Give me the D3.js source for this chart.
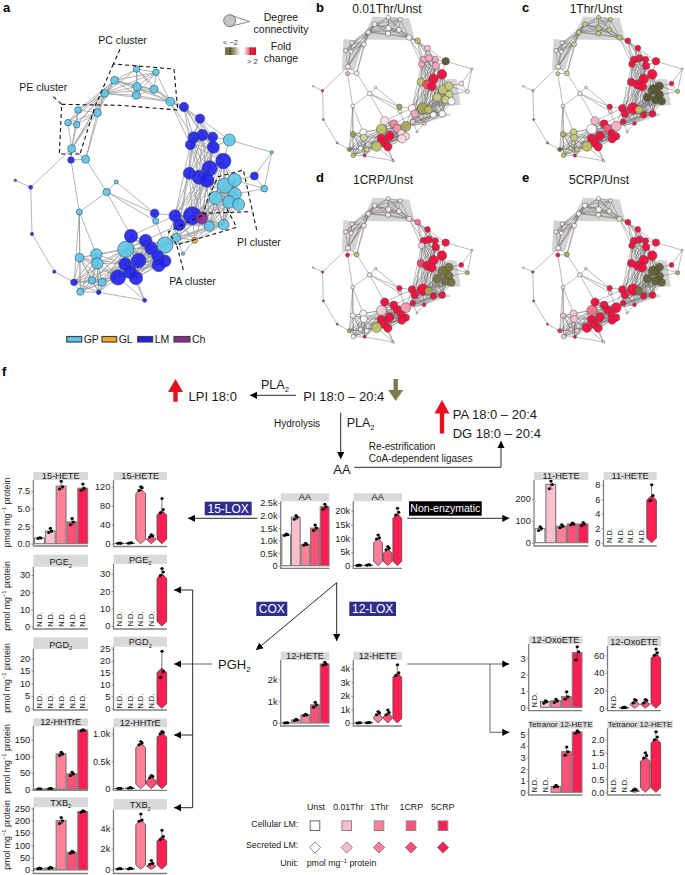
<!DOCTYPE html>
<html><head><meta charset="utf-8">
<style>html,body{margin:0;padding:0;background:#fff}svg{display:block;font-family:"Liberation Sans",Arial,sans-serif}</style>
<script src="https://cdn.jsdelivr.net/npm/d3@7"></script></head><body>
<div id="c"></div>
<script>
// ---------- network data (layout units) ----------
const nodeX=[410,468,344,411,462,409,314,511,234,292,204,230,215,257,349,320,238,467,688,815,793,675,704,647,705,687,716,628,671,529,495,377,549,239,289,292,276,306,241,552,600,581,607,638,571,640,670,568,629,597,621,763,213,92,96,163,464,525,577,538,393,437,453,473,495,416,375,476,390,354,408,222,296,434,605,584,46];
const nodeY=[207,217,241,260,268,286,280,305,330,338,368,374,446,478,546,576,636,663,420,457,566,557,540,594,582,606,613,679,674,713,735,748,761,773,763,790,841,847,875,321,356,412,405,411,434,442,483,520,505,532,541,528,480,562,702,815,640,647,647,674,708,722,745,768,783,782,792,795,815,832,834,847,877,901,654,721,541];
const nodeDegree=[10,10,12,13,12,12,12,13,10,12,10,10,12,12,6,11,9,9,18,5,10,23,20,20,19,19,18,15,16,13,24,24,5,13,17,17,11,12,11,14,14,17,17,15,15,18,23,18,23,21,21,12,10,6,5,5,13,18,27,18,20,19,19,18,18,22,19,20,20,23,20,10,7,6,18,9,4];
const nodeClass=Array.from({length:77},(_,i)=>i<39?"GP":i<74?"LM":i===74?"Ch":i===75?"GL":"Other");
const cliques=[[0,1,2,3,4,5,6,7],[2,6,8,9,10,11,12],[39,40,41,42,43,44,45],[41,42,43,44,45,46,47,48,49,50],[47,48,49,50,57,58,59,74],[21,22,23,24,25,26,46,50,58,74,27,28],[29,30,57,58,59,74,75,27,28],[60,61,62,63,64,65,66,67,68,69,70,30,31],[33,34,35,36,37,38,71,72,69,31,66]];
const extraEdges=[[76,53],[53,54],[54,55],[55,71],[53,12],[52,12],[52,13],[12,13],[13,9],[12,9],[52,16],[13,15],[15,14],[15,16],[14,56],[15,56],[15,17],[15,60],[16,33],[16,34],[16,71],[16,38],[56,17],[56,57],[17,30],[18,40],[18,19],[18,46],[19,51],[19,20],[51,20],[51,22],[20,22],[20,24],[39,7],[39,4],[40,7],[7,44],[7,41],[73,70],[73,68],[73,72],[73,69],[32,29],[32,75],[60,30],[60,57],[31,59],[30,57],[71,33],[42,50],[44,57],[41,59],[45,58],[18,45],[18,43],[13,52],[9,12],[6,13]];
const foldB=[.05,.2,.2,.02,.2,.02,.4,.03,.3,.3,.3,.3,.2,-.12,0,0,0,.2,-2,.1,.3,-.9,-.8,-.8,-.7,-.7,.05,.05,.05,.7,-1.2,-1,.05,-1.3,.02,-.6,.02,-.7,-1,-1,.7,1,1,1,1,1,2,-.9,2,1.6,2,.4,1,1.9,1.6,1.2,-1.3,.02,-1.3,1,.4,1.2,1.1,.5,.5,2,2,.5,2,-1,2,-1.5,2,.8,-1,.8,0];
const foldC=[-.8,-.8,-.8,-.8,-.8,-.8,-.8,-.9,-.1,-.6,-.1,-.1,-.1,-.7,-.1,-.1,-.15,.3,2,.05,-1,-2,-2,-2,-2,-2,-2,2,2,2,.9,0,.2,-1.1,-.8,-.8,-.8,-.8,-1,2,2,2,2,2,2,2,2,2,2,2,2,2,-.7,.8,1.8,1.8,2,2,2,2,.9,2,1.4,2,2,2,2,2,2,-1,2,-1.8,2,.7,-1,2,0];
const foldD=[.3,.3,.3,.3,.3,.3,.3,.4,.3,.3,.3,.3,.3,-1,.3,.4,.2,.3,2,-.1,-1.2,-1.7,-1.7,-1.7,-1.7,-1.7,-1.7,2,2,2,1.1,.6,.2,-.1,.05,.05,-.15,-.1,-.1,1.3,2,2,2,2,.5,2,2,1.6,2,2,2,2,2,2,2,2,2,2,2,2,2,2,2,2,2,2,2,2,2,-1,2,-1.2,2,.4,-1.2,2,0];
const foldE=[.1,-.2,.1,.05,-.2,-.2,.1,-.3,.2,.2,.2,.2,.2,-1.2,.3,.3,.3,.3,2,.1,-1.2,-1.9,-1.9,-1.9,-1.9,-1.9,-1.9,2,2,2,2,1.3,.3,.7,.7,.7,.7,.7,.6,2,2,2,2,2,2,2,2,2,2,2,2,2,2,2,2,2,2,2,2,2,2,2,2,2,2,2,2,2,2,2,2,1.8,2,.4,-1.7,2,0];
const dashedPaths=[[[360,148],[340,192],[522,207],[533,328]],[[340,192],[285,320],[240,462]],[[185,313],[360,316],[533,330]],[[160,290],[185,313],[178,462],[242,462]],[[770,690],[730,510],[655,530],[625,590],[610,640],[755,635]],[[550,810],[530,735],[710,682],[680,625]],[[530,735],[505,695],[620,640]]];
const hulls=[[[335,203],[512,211],[539,318],[283,315]],[[193,312],[289,323],[249,462],[185,462]],[[700,504],[741,507],[760,632],[620,640],[625,570]],[[625,640],[717,680],[530,735],[515,700]]];
const clusterNames=["PC cluster","PE cluster","PI cluster","PA cluster"];
const classNames=["GP","GL","LM","Ch"];
const classColors={GP:"#5cc6e8",GL:"#f7a823",LM:"#2020ee",Ch:"#8e2a90",Other:"#e02a2a"};

// ---------- bar data ----------
const conditions=["Unst","0.01Thr","1Thr","1CRP","5CRP"];
const condColors=["#ffffff","#fdbfcc","#ff8097","#ff5176","#ff1f52"];
const hete15C=[.8,1.8,8.2,3.1,7.9],hete15CR=[[.75,.8,.85],[1.6,1.8,2.2],[7.8,8.1,8.9],[2.7,3.1,3.6],[7.6,7.9,8.5]];
const hete15S=[1,1.5,115,18,70],hete15SR=[[1,1,1.5],[1,2,2],[112,118,120],[14,17,19],[65,72,95]];
const pge2C=[null,null,null,null,null];
const pge2S=[null,null,null,null,30],pge2SR=[null,null,null,null,[29,31,33]];
const pgd2C=[null,null,null,null,null];
const pgd2S=[null,null,null,null,17],pgd2SR=[null,null,null,null,[13,15.5,24]];
const hhtC=[1,2,108,47,180],hhtCR=[[1,1,2],[1,2,3],[103,108,113],[42,47,52],[178,180,181]];
const hhtS=[5,15,830,225,1020],hhtSR=[[3,5,8],[10,15,22],[800,830,860],[200,225,240],[1000,1020,1040]];
const txbC=[6,8,200,72,237],txbCR=[[5,6,8],[6,8,11],[188,200,213],[68,72,76],[234,237,240]];
const txbS=[50,80,4800,600,3200],txbSR=[[20,50,80],[40,80,130],[4700,4800,5400],[500,600,850],[2900,3200,3800]];
const aaC=[1230,1930,850,1500,2350],aaCR=[[1200,1230,1260],[1850,1930,2000],[820,850,900],[1400,1500,1620],[2250,2350,2450]];
const aaS=[200,300,10000,6200,19000],aaSR=[[100,200,250],[200,300,450],[9800,10200,11200],[5800,6400,7000],[18500,19500,21000]];
const hete11C=[65,265,75,85,85],hete11CR=[[55,65,72],[245,265,280],[68,75,82],[80,85,90],[78,85,92]];
const hete11S=[null,null,null,null,6.5],hete11SR=[null,null,null,null,[5.8,6.5,8]];
const hete12C=[10,140,370,830,2700],hete12CR=[[5,10,15],[100,140,170],[340,370,400],[720,830,950],[2650,2700,2780]];
const hete12S=[10,30,750,780,3700],hete12SR=[[5,10,15],[20,30,40],[600,750,850],[600,780,950],[3500,3700,4300]];
const oxoC=[null,.35,.4,.65,3.35],oxoCR=[null,[.25,.35,.4],[.3,.4,.5],[.5,.65,.95],[2.9,3.4,3.7]];
const oxoS=[null,1,9,9,62],oxoSR=[null,[.5,1,1.5],[6,9,10],[6,9,10],[60,63,67]];
const tetC=[null,null,.5,3.5,5.2],tetCR=[null,null,[.45,.5,.6],[3.2,3.5,3.9],[5.1,5.2,5.3]];
const tetS=[null,null,.09,1.35,2.05],tetSR=[null,null,[.08,.1,.13],[1.3,1.4,1.5],[2,2.1,2.3]];

const W=685,H=875;
const svg=d3.select("#c").append("svg").attr("width",W).attr("height",H).attr("viewBox",`0 0 ${W} ${H}`);
const TXT="#1a1a1a";
function text(x,y,s,size,o={}){
  const t=svg.append("text").attr("x",x).attr("y",y).attr("font-size",size).attr("fill",o.fill||TXT)
    .attr("text-anchor",o.anchor||"start").attr("font-weight",o.weight||"normal");
  const m=s.match(/^(.*)_(\w+)(.*)$/);
  if(m){t.append("tspan").text(m[1]);t.append("tspan").attr("font-size",size*.62).attr("dy",size*.25).text(m[2]);
    if(m[3])t.append("tspan").attr("dy",-size*.25).text(m[3]);}
  else t.text(s);
  return t;
}
function unit(x,y,size,rotate,anchor){
  const g=svg.append("text").attr("font-size",size).attr("fill",TXT).attr("text-anchor",anchor||"middle")
    .attr("transform",`translate(${x},${y})${rotate?" rotate(-90)":""}`);
  g.append("tspan").text("pmol mg");
  g.append("tspan").attr("dy",-size*.35).attr("font-size",size*.65).text("−1");
  g.append("tspan").attr("dy",size*.35).text(" protein");
}

// ---------- network ----------
const edgeSet=new Map();
cliques.forEach(c=>c.forEach((a,i)=>c.slice(i+1).forEach(b=>edgeSet.set(Math.min(a,b)+"-"+Math.max(a,b),[a,b]))));
extraEdges.forEach(([a,b])=>edgeSet.set(Math.min(a,b)+"-"+Math.max(a,b),[a,b]));
const edges=[...edgeSet.values()];
const fold=d3.scaleLinear().domain([-2,-1,-.15,0,.5,1,1.5,2]).range(["#56562f","#bfbf62","#e2f2da","#ffffff","#fcd8df","#f9a8bc","#f74f70","#f50f3c"]).clamp(true);
function network(ox,oy,k,folds){
  const x=d3.scaleLinear().domain([0,930]).range([ox,ox+930*k]);
  const y=d3.scaleLinear().domain([0,930]).range([oy,oy+930*k]);
  const g=svg.append("g");
  const line=d3.line().x(d=>x(d[0])).y(d=>y(d[1]));
  if(folds) g.selectAll("path.h").data(hulls).join("path").attr("d",d=>line(d)+"Z").attr("fill","#d4d4d4");
  g.selectAll("line").data(edges).join("line")
    .attr("x1",d=>x(nodeX[d[0]])).attr("y1",d=>y(nodeY[d[0]])).attr("x2",d=>x(nodeX[d[1]])).attr("y2",d=>y(nodeY[d[1]]))
    .attr("stroke",folds?"#666":"#999").attr("stroke-width",folds?.45:.75);
  g.selectAll("circle").data(nodeX.map((_,i)=>i)).join("circle")
    .attr("cx",i=>x(nodeX[i])).attr("cy",i=>y(nodeY[i])).attr("r",i=>nodeDegree[i]*k)
    .attr("fill",i=>folds?fold(folds[i]):classColors[nodeClass[i]])
    .attr("fill-opacity",folds?.96:.9).attr("stroke",folds?"#4a4a4a":"#2f4c66").attr("stroke-width",folds?.5:.6);
  if(!folds) g.selectAll("path.d").data(dashedPaths).join("path").attr("d",line).attr("fill","none")
    .attr("stroke","#111").attr("stroke-width",1.1).attr("stroke-dasharray","4 3");
}
network(0,0,1/3,null);
const K=.62/3;
network(303.5,-25.5,K,foldB);
network(513.8,-25.5,K,foldC);
network(303.5,155.8,K,foldD);
network(513.8,155.8,K,foldE);

[["a",3,12],["b",316,12],["c",522,12],["d",316,182],["e",522,182],["f",2,376]].forEach(d=>text(d[1],d[2],d[0],13,{weight:"bold",fill:"#000"}));
text(387,13,"0.01Thr/Unst",12,{anchor:"middle"});text(596,13,"1Thr/Unst",12,{anchor:"middle"});
text(383,184,"1CRP/Unst",12,{anchor:"middle"});text(599,184,"5CRP/Unst",12,{anchor:"middle"});
text(98.3,43.5,clusterNames[0],10.5);text(19.3,91,clusterNames[1],10.5);text(237,246,clusterNames[2],10.5);text(169.3,285,clusterNames[3],10.5);

// panel a legends
svg.append("path").attr("d","M230,15 L249.5,21.5 L230,26.5").attr("fill","none").attr("stroke","#555").attr("stroke-width",.7);
svg.append("circle").attr("cx",229.7).attr("cy",20.7).attr("r",6).attr("fill","#c4c4c4").attr("stroke","#555").attr("stroke-width",.7);
text(281,20.5,"Degree",10.5,{anchor:"middle"});text(281,33,"connectivity",10.5,{anchor:"middle"});
text(281,49.5,"Fold",10.5,{anchor:"middle"});text(281,62,"change",10.5,{anchor:"middle"});
text(223,45,"< −2",7.5,{fill:"#333"});text(247,64,"> 2",7.5,{fill:"#333"});
const gr=svg.append("defs").append("linearGradient").attr("id","fc");
[[0,"#77774a"],[.22,"#77774a"],[.5,"#ffffff"],[.6,"#ffffff"],[.78,"#f56080"],[.9,"#ee1133"],[1,"#ee1133"]].forEach(d=>gr.append("stop").attr("offset",d[0]).attr("stop-color",d[1]));
svg.append("rect").attr("x",225).attr("y",47.3).attr("width",31).attr("height",7.7).attr("fill","url(#fc)");
[230,250.5].forEach(x=>svg.append("line").attr("x1",x).attr("x2",x).attr("y1",47.3).attr("y2",55).attr("stroke","#222").attr("stroke-width",.7));
const legX=[66.7,102,137.7,174],legW=[15,14.7,15,16];
classNames.forEach((c,i)=>{
  svg.append("rect").attr("x",legX[i]).attr("y",336.5).attr("width",legW[i]).attr("height",5.5).attr("fill",classColors[c]).attr("stroke","#444").attr("stroke-width",1.2);
  text(legX[i]+legW[i]+2,342.5,c,10.5);
});

// ---------- pathway arrows ----------
function arrowLine(pts,head=true,color="#111",w=.9){
  svg.append("path").attr("d",d3.line()(pts)).attr("fill","none").attr("stroke",color).attr("stroke-width",w);
  if(head){
    const [a,b]=pts.slice(-2),ang=Math.atan2(b[1]-a[1],b[0]-a[0]);
    svg.append("path").attr("d","M0,0 L-7,-3.6 L-7,3.6 Z").attr("fill","#000")
      .attr("transform",`translate(${b[0]},${b[1]}) rotate(${ang*180/Math.PI})`);
  }
}
function blockArrow(cx,tip,headEnd,tail,color){
  svg.append("path").attr("d",`M${cx},${tip} L${cx+7.5},${headEnd} L${cx+2.2},${headEnd} L${cx+2.2},${tail} L${cx-2.2},${tail} L${cx-2.2},${headEnd} L${cx-7.5},${headEnd} Z`).attr("fill",color);
}
blockArrow(175.5,379,392,401.7,"#e60f1e");
blockArrow(442,400,413.5,433.5,"#e60f1e");
blockArrow(395.7,401,390,379,"#7c7c4c");
text(188.5,401,"LPI 18:0",13);
text(303.3,401,"PI 18:0 – 20:4",13);
text(261,389,"PLA_2",12.5);
text(346.7,426.7,"PLA_2",12.5);
text(274,426.5,"Hydrolysis",10);
text(333.3,473.5,"AA",13);
text(452.7,418.5,"PA 18:0 – 20:4",13);
text(452.7,438,"DG 18:0 – 20:4",13);
text(368.7,449.5,"Re-estrification",10);
text(368.7,462,"CoA-dependent ligases",10);
text(218,668.5,"PGH_2",13);
arrowLine([[296,395.3],[250,395.3]]);
arrowLine([[340.7,412.7],[340.7,459]]);
arrowLine([[354.3,467.3],[501,467.3],[501,441]]);
arrowLine([[257.3,518.3],[188,518.3]]);
arrowLine([[407.3,518.3],[509.3,518.3]]);
arrowLine([[336.7,582.7],[336.7,641]]);
arrowLine([[336.7,582.7],[256,650]]);
arrowLine([[212.3,664],[174,664]],true,"#555");
arrowLine([[192.7,590],[174,590]]);
arrowLine([[192.7,735],[174,735]]);
arrowLine([[192.7,807.7],[174,807.7]]);
svg.append("path").attr("d","M192.7,590V807.7").attr("stroke","#111").attr("stroke-width",.9);
arrowLine([[407.3,664],[509.3,664]],true,"#555");
arrowLine([[490,664],[490,732.3],[509.3,732.3]],true,"#555");
function labelBox(x,y,w,h,fill,s,size){
  svg.append("rect").attr("x",x).attr("y",y).attr("width",w).attr("height",h).attr("fill",fill);
  text(x+w/2,y+h/2+size*.36,s,size,{anchor:"middle",fill:"#fff"});
}
labelBox(204.7,501.7,47,13.6,"#2e2e8c","15-LOX",12);
labelBox(409,501.3,72.7,14.4,"#000","Non-enzymatic",10.5);
labelBox(256.3,601.7,31,14.3,"#2e2e8c","COX",12);
labelBox(349.3,601.7,46.7,14.3,"#2e2e8c","12-LOX",12);

// ---------- bar panels ----------
function barPanel(o){
  const x=d3.scaleBand().domain(conditions).range([o.left+.8,o.right]).paddingInner(.09).paddingOuter(.03);
  const y=d3.scaleLinear().domain(o.anchor[0]).range(o.anchor[1]);
  const g=svg.append("g");
  const bw=x.bandwidth(),y0=y(0);
  svg.append("rect").attr("x",o.left).attr("y",o.strip[0]).attr("width",(o.stripRight||o.right)-o.left).attr("height",o.strip[1]-o.strip[0]).attr("fill","#d9d9d9");
  text((o.left+(o.stripRight||o.right))/2,o.strip[1]-1.4,o.title,o.titleSize||9.2,{anchor:"middle"});
  const row=o.values.map((v,i)=>({v,i,c:conditions[i],col:condColors[i],r:o.reps?o.reps[i]:null}));
  row.filter(d=>d.v!==null).forEach(d=>{
    const cx=x(d.c)+bw/2,yv=y(d.v);
    if(o.secreted){
      const s=Math.min((y0-yv)/2,4.5),h=bw/2;
      g.append("path").attr("d",d3.line()([[cx,y0],[cx+h,y0-s],[cx+h,yv+s],[cx,yv],[cx-h,yv+s],[cx-h,y0-s]])+"Z")
       .attr("fill",d.col).attr("stroke","#444").attr("stroke-width",.8);
    } else {
      g.append("rect").attr("x",x(d.c)).attr("y",yv).attr("width",bw).attr("height",y0-yv)
       .attr("fill",d.col).attr("stroke","#7a7a7a").attr("stroke-width",1.1);
    }
  });
  row.filter(d=>d.v===null).forEach(d=>{
    svg.append("text").attr("font-size",7.4).attr("fill",TXT)
      .attr("transform",`translate(${x(d.c)+bw/2+2.6},${y0+.3}) rotate(-90)`).text("N.D.");
  });
  const off=[-1.6,1.5,.2];
  row.filter(d=>d.r).forEach(d=>{
    const cx=x(d.c)+bw/2,lo=d3.min(d.r),hi=d3.max(d.r);
    g.append("path").attr("d",`M${cx-2},${y(lo)}H${cx+2}M${cx},${y(lo)}V${y(hi)}M${cx-2},${y(hi)}H${cx+2}`).attr("stroke","#222").attr("stroke-width",.6).attr("fill","none");
    g.selectAll(null).data(d.r).join("circle").attr("cx",(_,i)=>cx+off[i]).attr("cy",v=>y(v)).attr("r",1.5).attr("fill","#000");
  });
  const ax=svg.append("g").attr("transform",`translate(${o.left},0)`)
    .call(d3.axisLeft(y).tickValues(o.ticks).tickFormat((_,i)=>o.labels[i]).tickSize(2).tickPadding(1.2));
  ax.select(".domain").remove();
  ax.selectAll("text").attr("font-size",9.2).attr("font-family",'"Liberation Sans",Arial,sans-serif').attr("fill",TXT);
  ax.selectAll("line").attr("stroke","#555").attr("stroke-width",.6);
  svg.append("path").attr("d",`M${o.left},${o.strip[1]}V${o.axis}H${o.right}`).attr("fill","none").attr("stroke","#808080").attr("stroke-width",1.3);
}
const c1={left:33.4,right:88},c2={left:113.5,right:167},c3={left:280.7,right:329.3},c4={left:353.3,right:402};
barPanel({...c1,strip:[472,480],axis:546,anchor:[[0,7.5],[543.7,491]],title:"15-HETE",values:hete15C,reps:hete15CR,ticks:[0,2.5,5,7.5],labels:["0.0","2.5","5.0","7.5"]});
barPanel({...c2,strip:[472,480],axis:546.5,anchor:[[0,120],[543.7,486.7]],title:"15-HETE",values:hete15S,reps:hete15SR,secreted:true,ticks:[0,40,80,120],labels:["0","40","80","120"]});
barPanel({...c1,strip:[554.7,566.7],axis:629,anchor:[[0,30],[626.5,575]],title:"PGE_2",values:pge2C,ticks:[0,10,20,30],labels:["0","10","20","30"]});
barPanel({...c2,strip:[554.7,564],axis:629,anchor:[[0,30],[626,573.7]],title:"PGE_2",values:pge2S,reps:pge2SR,secreted:true,ticks:[0,10,20,30],labels:["0","10","20","30"]});
barPanel({...c1,strip:[637.3,649],axis:710,anchor:[[0,20],[708.3,658.3]],title:"PGD_2",values:pgd2C,ticks:[0,5,10,15,20],labels:["0","5","10","15","20"]});
barPanel({...c2,strip:[636.7,646.7],axis:710,anchor:[[0,25],[708.3,649]],title:"PGD_2",values:pgd2S,reps:pgd2SR,secreted:true,ticks:[0,5,10,15,20,25],labels:["0","5","10","15","20","25"]});
barPanel({...c1,strip:[718.3,726],axis:790.3,anchor:[[0,150],[789.3,740]],title:"12-HHTrE",values:hhtC,reps:hhtCR,ticks:[0,50,100,150],labels:["0","50","100","150"]});
barPanel({...c2,strip:[718.3,727.3],axis:790.3,anchor:[[0,1000],[788.7,733.7]],title:"12-HHTrE",values:hhtS,reps:hhtSR,secreted:true,ticks:[0,500,1000],labels:["0","0.5k","1.0k"]});
barPanel({...c1,strip:[797.3,807.3],axis:873.5,anchor:[[0,250],[870,808.3]],title:"TXB_2",values:txbC,reps:txbCR,ticks:[0,50,100,150,200,250],labels:["0","50","100","150","200","250"]});
barPanel({...c2,strip:[799,809.7],axis:873.5,anchor:[[0,4000],[869.3,828.3]],title:"TXB_2",values:txbS,reps:txbSR,secreted:true,ticks:[0,2000,4000],labels:["0","2k","4k"]});
barPanel({...c3,strip:[493.3,501.3],axis:568.3,anchor:[[0,2500],[565.7,503]],title:"AA",values:aaC,reps:aaCR,ticks:[0,500,1000,1500,2000,2500],labels:["0","0.5k","1.0k","1.5k","2.0k","2.5k"]});
barPanel({...c4,strip:[493.3,501.3],axis:568.3,anchor:[[0,20000],[565.7,511]],title:"AA",values:aaS,reps:aaSR,secreted:true,ticks:[0,5000,10000,15000,20000],labels:["0","5k","10k","15k","20k"]});
barPanel({left:534,right:588.3,strip:[472,480],axis:546,anchor:[[0,200],[542.7,498.7]],title:"11-HETE",values:hete11C,reps:hete11CR,ticks:[0,100,200],labels:["0","100","200"]});
barPanel({left:603.5,right:656.7,strip:[472,480],axis:546,anchor:[[0,8],[542.7,484.7]],title:"11-HETE",values:hete11S,reps:hete11SR,secreted:true,ticks:[0,2,4,6,8],labels:["0","2","4","6","8"]});
barPanel({...c3,strip:[651.7,660],axis:726,anchor:[[0,2000],[723,679.3]],title:"12-HETE",values:hete12C,reps:hete12CR,ticks:[0,1000,2000],labels:["0","1k","2k"]});
barPanel({...c4,strip:[651.7,660],axis:726,anchor:[[0,4000],[723,668.7]],title:"12-HETE",values:hete12S,reps:hete12SR,secreted:true,ticks:[0,1000,2000,3000,4000],labels:["0","1k","2k","3k","4k"]});
barPanel({left:528.7,right:582.3,strip:[636,644],axis:710.7,anchor:[[0,3],[707.3,658.3]],title:"12-OxoETE",values:oxoC,reps:oxoCR,ticks:[0,1,2,3],labels:["0","1","2","3"]});
barPanel({left:607.5,right:661,strip:[636,646],axis:710.7,anchor:[[0,60],[708.3,655.3]],title:"12-OxoETE",values:oxoS,reps:oxoSR,secreted:true,ticks:[0,20,40,60],labels:["0","20","40","60"]});
barPanel({left:528.7,right:582.3,stripRight:592.5,strip:[720.7,728.3],axis:795,anchor:[[0,5],[792.3,734.3]],title:"Tetranor 12-HETE",titleSize:8,values:tetC,reps:tetCR,ticks:[0,1,2,3,4,5],labels:["0","1","2","3","4","5"]});
barPanel({left:607.5,right:661,stripRight:672.7,strip:[720.7,728.3],axis:795,anchor:[[0,2],[792.3,739.7]],title:"Tetranor 12-HETE",titleSize:8,values:tetS,reps:tetSR,secreted:true,ticks:[0,.5,1,1.5,2],labels:["0.0","0.5","1.0","1.5","2.0"]});
[512.5,596,678,759,835].forEach(y=>unit(9.5,y,8.8,true));

// ---------- condition legend ----------
const headerCx=[316,348.3,379.3,411.3,442.7],swatchCx=[315,346.7,379,411,443];
conditions.forEach((c,i)=>{
  text(headerCx[i],810,c,8.8,{anchor:"middle"});
  svg.append("rect").attr("x",swatchCx[i]-4.8).attr("y",820.9).attr("width",9.6).attr("height",9.6).attr("fill",condColors[i]).attr("stroke",i?"#888":"#666").attr("stroke-width",1);
  const s=5.6;
  svg.append("path").attr("d",`M${swatchCx[i]},${847.5-s}l${s},${s}l${-s},${s}l${-s},${-s}Z`).attr("fill",condColors[i]).attr("stroke","#555").attr("stroke-width",.7);
});
text(298.3,826.8,"Cellular LM:",8.8,{anchor:"end"});
text(298.3,848.4,"Secreted LM:",8.8,{anchor:"end"});
text(298.3,865.8,"Unit:",8.8,{anchor:"end"});
unit(306.7,865.8,8.8,false,"start");
</script></body></html>
